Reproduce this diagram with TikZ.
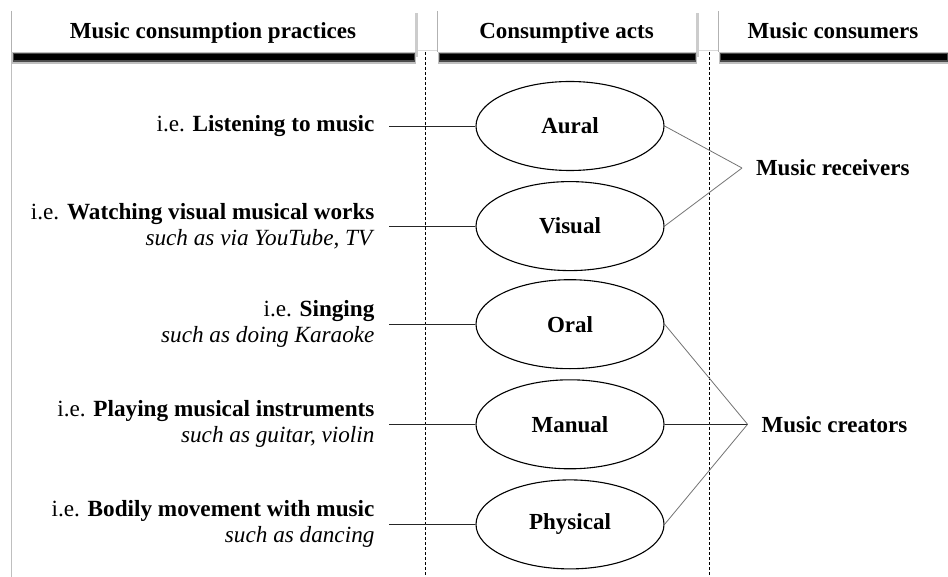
\documentclass[tikz,border=0pt]{standalone}
\usepackage{fontspec}
\setmainfont{Liberation Serif}
\usetikzlibrary{shapes.geometric,positioning}
\tikzset{
  act/.style={ellipse, draw, line width=1.1pt, minimum width=188pt, minimum height=89pt,
    inner sep=0pt, font=\fontsize{23}{26}\selectfont\bfseries},
  practice/.style={align=right, inner xsep=0pt, outer xsep=0pt, font=\fontsize{23.2}{26}\selectfont},
  consumer/.style={anchor=west, inner xsep=0pt, outer xsep=14pt, font=\fontsize{23}{26}\selectfont\bfseries},
  headtext/.style={anchor=base, font=\fontsize{23}{26}\selectfont\bfseries},
  link/.style={line width=0.8pt, black!85},
  glink/.style={line width=0.8pt, black!55},
  divider/.style={line width=0.7pt, dash pattern=on 3pt off 2pt}
}
\begin{document}
\begin{tikzpicture}[x=1pt, y=-1pt, node distance=10pt]
\useasboundingbox (0,0) rectangle (948,577);
\draw[black!25, line width=0.8pt] (11,11) -- (11,577);
\draw[black!15] (11,50) -- (948,50);
\foreach \xa/\xb/\lab [count=\i] in {11/415/Music consumption practices, 437/696/Consumptive acts, 718/948/Music consumers}{
  \fill[black!20] (\xb,13) rectangle (\xb+3,57);
  \fill[black!25] (\xa+1,52) rectangle (\xb+1,64);
  \fill[black!70] (\xa+2,53) rectangle (\xb,62);
  \fill[black] (\xa+3,54) rectangle (\xb-1,60);
  \fill[white] (\xa,11) rectangle (\xb,52);
  \draw[black!30] (\xa,11) -- (\xa,52);
  \node[headtext] (head\i) at ({(\xa+\xb)/2},39) {\lab};
}
\draw[divider] (425,52) -- (425,577);
\draw[divider] (709,52) -- (709,577);

\node[act] (aural) at (570,126) {Aural};
\node[act, below=of aural] (visual) {Visual};
\node[act, below=8pt of visual] (oral) {Oral};
\node[act, below=of oral] (manual) {Manual};
\node[act, below=of manual] (physical) {Physical};

\node[practice, left=101pt of aural] (listen) {i.e. \textbf{Listening to music}};
\node[practice, left=101pt of visual] (watch) {i.e. \textbf{Watching visual musical works}\\ \textit{such as via YouTube, TV}\hspace{8pt}};
\node[practice, left=101pt of oral] (sing) {i.e. \textbf{Singing}\\ \textit{such as doing Karaoke}};
\node[practice, left=101pt of manual] (play) {i.e. \textbf{Playing musical instruments}\\ \textit{such as guitar, violin}};
\node[practice, left=101pt of physical] (move) {i.e. \textbf{Bodily movement with music}\\ \textit{such as dancing}};

\draw[link] ([xshift=15pt]listen.east) -- (aural.west);
\draw[link] ([xshift=15pt]watch.east) -- (visual.west);
\draw[link] ([xshift=15pt]sing.east) -- (oral.west);
\draw[link] ([xshift=15pt]play.east) -- (manual.west);
\draw[link] ([xshift=15pt]move.east) -- (physical.west);

\node[consumer] (receivers) at (742,168) {Music receivers};
\node[consumer] (creators) at ([xshift=83pt]manual.east) {Music creators};

\draw[glink] (aural.east) -- (receivers.west);
\draw[glink] (visual.east) -- (receivers.west);
\draw[glink] (oral.east) -- (creators.west);
\draw[link] (manual.east) -- (creators.west);
\draw[glink] (physical.east) -- (creators.west);
\end{tikzpicture}
\end{document}
